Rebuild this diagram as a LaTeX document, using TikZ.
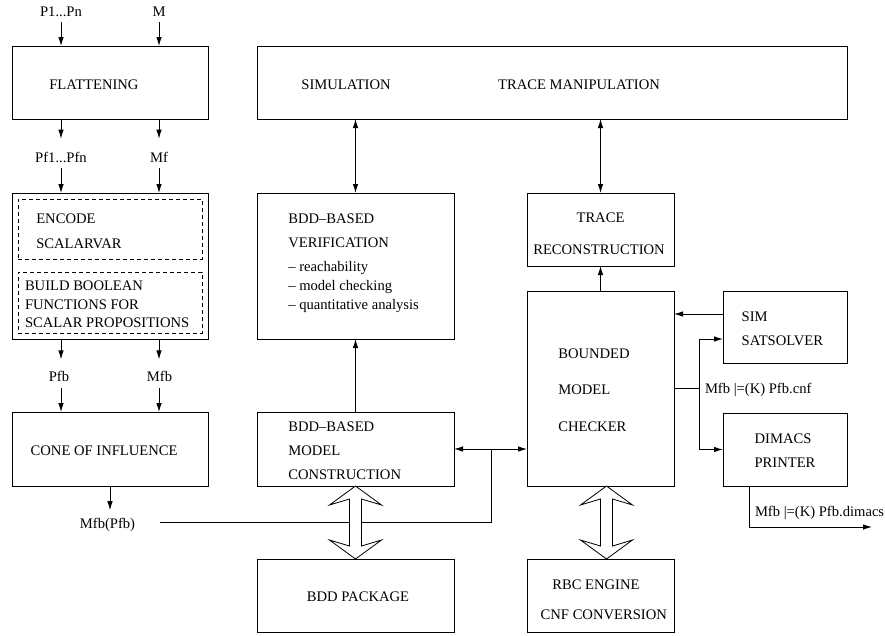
\documentclass[tikz,border=0pt]{standalone}
\usepackage{fontspec}
\setmainfont{Liberation Serif}
\usetikzlibrary{arrows.meta,calc}
\begin{document}
\begin{tikzpicture}[x=1pt,y=-1pt,
  box/.style={draw, line width=0.9pt, inner sep=0pt, outer sep=0pt},
  dbox/.style={draw, line width=0.7pt, dash pattern=on 4pt off 3pt, inner sep=0pt, outer sep=0pt},
  txt/.style={inner sep=0pt, outer sep=0pt, font=\fontsize{14.6}{17}\selectfont},
  ln/.style={line width=0.9pt},
  arr/.style={ln, -{Latex[length=9pt,width=5.5pt]}},
  darr/.style={ln, {Latex[length=9pt,width=5.5pt]}-{Latex[length=9pt,width=5.5pt]}},
  bigarr/.style={line width=0.8pt, fill=white, line join=miter}]
\useasboundingbox (0,0) rectangle (885,635);

% ---- boxes
\node[box, minimum width=196pt, minimum height=73pt] (flat) at (110,82.5) {};
\node[box, minimum width=196pt, minimum height=146pt] (enc) at (110,266) {};
\node[dbox, minimum width=184pt, minimum height=60pt] (d1) at (110,229) {};
\node[dbox, minimum width=184pt, minimum height=61pt] (d2) at (110,302.5) {};
\node[box, minimum width=196pt, minimum height=74pt] (cone) at (110,449) {};
\node[box, minimum width=590pt, minimum height=73pt] (top) at (552,82.5) {};
\node[box, minimum width=197pt, minimum height=146pt] (ver) at (355.5,266) {};
\node[box, minimum width=197pt, minimum height=74pt] (mc) at (355.5,449) {};
\node[box, minimum width=197pt, minimum height=73pt] (pkg) at (355.5,595.5) {};
\node[box, minimum width=147pt, minimum height=73pt] (tr) at (600.5,229.5) {};
\node[box, minimum width=147pt, minimum height=195pt] (bmc) at (600.5,388.5) {};
\node[box, minimum width=147pt, minimum height=73pt] (rbc) at (600.5,595.5) {};
\node[box, minimum width=124pt, minimum height=72pt] (sim) at (785,327) {};
\node[box, minimum width=124pt, minimum height=73pt] (dim) at (785,449.5) {};

% ---- texts in boxes
\node[txt, anchor=base west] (tflat) at (49.3,89.3) {FLATTENING};
\node[txt, anchor=base west] (tenca) at (36.3,223.3) {ENCODE};
\node[txt, anchor=base west] (tencb) at (36.3,248.3) {SCALARVAR};
\node[txt, anchor=base west] (tbuia) at (25,290) {BUILD BOOLEAN};
\node[txt, anchor=base west] (tbuib) at (25,309) {FUNCTIONS FOR};
\node[txt, anchor=base west] (tbuic) at (25,327) {SCALAR PROPOSITIONS};
\node[txt, anchor=base west] (tcone) at (30.7,455) {CONE OF INFLUENCE};
\node[txt, anchor=base] (tsim) at (346,89.3) {SIMULATION};
\node[txt, anchor=base] (ttm) at (579,89.3) {TRACE MANIPULATION};
\node[txt, anchor=base west] (tvera) at (288.3,223) {BDD–BASED};
\node[txt, anchor=base west] (tverb) at (288.3,247.7) {VERIFICATION};
\node[txt, anchor=base west] (tverc) at (288.3,271.7) {– reachability};
\node[txt, anchor=base west] (tverd) at (288.3,290.7) {– model checking};
\node[txt, anchor=base west] (tvere) at (288.3,309) {– quantitative analysis};
\node[txt, anchor=base west] (tmca) at (288.3,431) {BDD–BASED};
\node[txt, anchor=base west] (tmcb) at (288.3,455) {MODEL};
\node[txt, anchor=base west] (tmcc) at (288.3,479.3) {CONSTRUCTION};
\node[txt, anchor=base] (tpkg) at (358,601.7) {BDD PACKAGE};
\node[txt, anchor=base] (ttra) at (600.5,222.7) {TRACE};
\node[txt, anchor=base] (ttrb) at (599,254) {RECONSTRUCTION};
\node[txt, anchor=base west] (tbmca) at (558.3,358.3) {BOUNDED};
\node[txt, anchor=base west] (tbmcb) at (558.3,394) {MODEL};
\node[txt, anchor=base west] (tbmcc) at (558.3,431) {CHECKER};
\node[txt, anchor=base west] (tsima) at (741.7,321.7) {SIM};
\node[txt, anchor=base west] (tsimb) at (741.7,345.7) {SATSOLVER};
\node[txt, anchor=base] (tdima) at (783,443.3) {DIMACS};
\node[txt, anchor=base] (tdimb) at (785,467.7) {PRINTER};
\node[txt, anchor=base west] (trbca) at (552.3,589.3) {RBC ENGINE};
\node[txt, anchor=base west] (trbcb) at (540.7,619.3) {CNF CONVERSION};

% ---- signal labels
\node[txt, anchor=base] (pin) at (61,16) {P1...Pn};
\node[txt, anchor=base] (min) at (159,16) {M};
\node[txt, anchor=base] (pf) at (61,162) {Pf1...Pfn};
\node[txt, anchor=base] (mf) at (159,162) {Mf};
\node[txt, anchor=base] (pfb) at (59,381.7) {Pfb};
\node[txt, anchor=base] (mfb) at (159.5,381.7) {Mfb};
\node[txt, anchor=base] (mfbpfb) at (107.5,528) {Mfb(Pfb)};
\node[txt, anchor=base west] (cnf) at (705,393.3) {Mfb |=(K) Pfb.cnf};
\node[txt, anchor=base west] (dimacs) at (755,516.7) {Mfb |=(K) Pfb.dimacs};

% ---- left column arrows
\draw[arr, shorten <=6pt] (pin.south) -- (pin.south |- flat.north);
\draw[arr, shorten <=6pt] (min.south) -- (min.south |- flat.north);
\draw[arr, shorten >=13pt] (flat.south -| pf.north) -- (pf.north);
\draw[arr, shorten >=13pt] (flat.south -| mf.north) -- (mf.north);
\draw[arr, shorten <=6pt] (pf.south) -- (pf.south |- enc.north);
\draw[arr, shorten <=6pt] (mf.south) -- (mf.south |- enc.north);
\draw[arr, shorten >=12pt] (enc.south -| pf.south) -- (pfb.north -| pf.south);
\draw[arr, shorten >=12pt] (enc.south -| mf.south) -- (mfb.north -| mf.south);
\draw[arr, shorten <=6pt] (pfb.south -| pf.south) -- (cone.north -| pf.south);
\draw[arr, shorten <=6pt] (mfb.south -| mf.south) -- (cone.north -| mf.south);
\draw[arr, shorten >=7.5pt] (cone.south) -- (cone.south |- mfbpfb.north);

% ---- Mfb(Pfb) line to the model construction / BMC link
\coordinate (mstart) at (160,522);
\path (mc.east) ++(37,0) coordinate (jn);
\draw[ln] (mstart) -| (jn);
\draw[arr] (jn) -- (mc.east);
\draw[arr] (jn) -- (jn -| bmc.west);

% ---- middle column
\draw[arr] (mc.north) -- (ver.south);
\draw[darr] (ver.north) -- (ver.north |- top.south);
\draw[darr] (tr.north) -- (tr.north |- top.south);
\draw[arr] (bmc.north) -- (tr.south);

% ---- right column
\path (sim.north west) ++(0,23) coordinate (sout);
\draw[arr] (sout) -- (sout -| bmc.east);
\path (bmc.east) ++(25,0) coordinate (split);
\path (sim.west) ++(0,12) coordinate (simin);
\draw[ln] (bmc.east) -- (split);
\draw[arr] (split) |- (simin);
\draw[arr] (split) |- (dim.west);
\path (dim.south west) ++(26,0) coordinate (dout);
\coordinate (dend) at (872,527);
\draw[arr] (dout) |- (dend);

% ---- big hollow double arrows
\draw[bigarr] (mc.south) -- ++(26,19) -- ++(-20,-6) -- ++(0,47) -- ++(20,-6) -- ++(-26,19)
  -- ++(-26,-19) -- ++(20,6) -- ++(0,-47) -- ++(-20,6) -- cycle;
\draw[bigarr] ($(bmc.south)+(6,0)$) -- ++(26,19) -- ++(-20,-6) -- ++(0,47) -- ++(20,-6) -- ++(-26,19)
  -- ++(-26,-19) -- ++(20,6) -- ++(0,-47) -- ++(-20,6) -- cycle;
\end{tikzpicture}
\end{document}
